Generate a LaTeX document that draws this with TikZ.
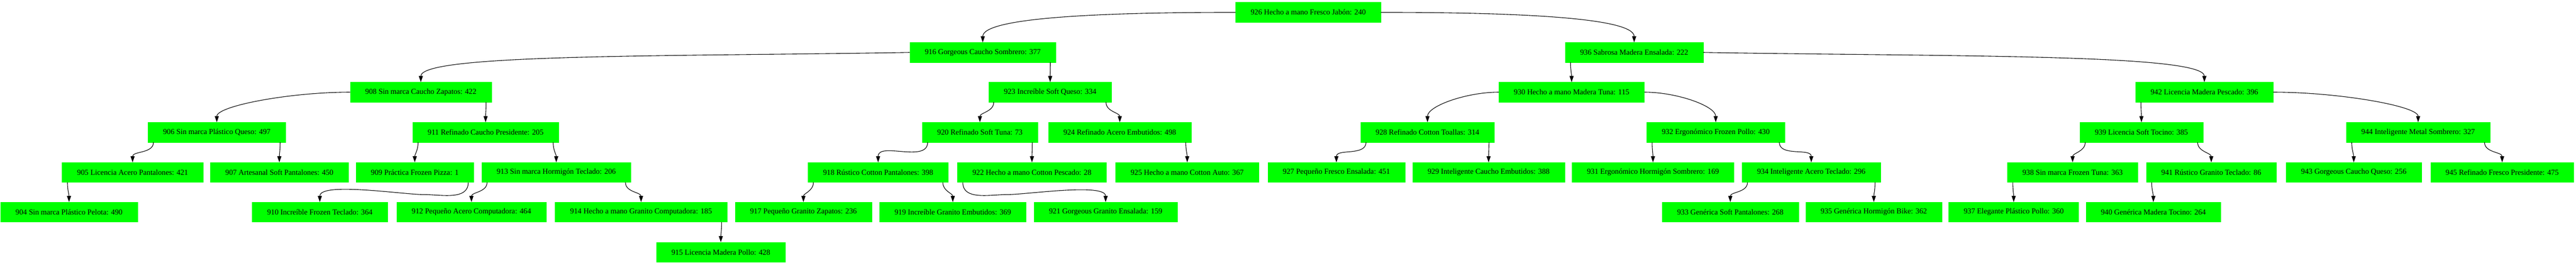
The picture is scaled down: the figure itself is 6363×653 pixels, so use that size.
\documentclass[tikz,border=0pt]{standalone}
\usepackage{fontspec}
\setmainfont{Liberation Serif}
\usetikzlibrary{arrows.meta}
\definecolor{boxgreen}{RGB}{0,255,0}
\begin{document}
\begin{tikzpicture}[x=1pt,y=1pt,>={Triangle[length=15pt,width=10pt]},
	item/.style={fill=boxgreen,draw=boxgreen,line width=0.6pt,inner xsep=37pt,inner ysep=0pt,minimum height=49pt,font=\fontsize{18.8}{22}\selectfont},
	link/.style={->,line width=1.4pt}]
	\useasboundingbox (0,0) rectangle (6363,653);
	% level 0 and 1
	\node[item] (n926) at (3231.5,622.5) {926 Hecho a mano Fresco Jabón: 240};
	\node[item] (n916) at (2427.5,523.5) {916 Gorgeous Caucho Sombrero: 377};
	\node[item] (n936) at (4036.5,523.5) {936 Sabrosa Madera Ensalada: 222};
	% level 2
	\node[item] (n908) at (1039.5,425.5) {908 Sin marca Caucho Zapatos: 422};
	\node[item] (n923) at (2594,425.5) {923 Increíble Soft Queso: 334};
	\node[item] (n930) at (3882,425.5) {930 Hecho a mano Madera Tuna: 115};
	\node[item] (n942) at (5445,425.5) {942 Licencia Madera Pescado: 396};
	% level 3
	\node[item] (n906) at (535.5,326.5) {906 Sin marca Plástico Queso: 497};
	\node[item] (n911) at (1199.5,326.5) {911 Refinado Caucho Presidente: 205};
	\node[item] (n920) at (2420.5,326.5) {920 Refinado Soft Tuna: 73};
	\node[item] (n924) at (2766,326.5) {924 Refinado Acero Embutidos: 498};
	\node[item] (n928) at (3526,326.5) {928 Refinado Cotton Toallas: 314};
	\node[item] (n932) at (4238,326.5) {932 Ergonómico Frozen Pollo: 430};
	\node[item] (n939) at (5289.5,326.5) {939 Licencia Soft Tocino: 385};
	\node[item] (n944) at (5973,326.5) {944 Inteligente Metal Sombrero: 327};
	% level 4
	\node[item] (n905) at (327.5,227.5) {905 Licencia Acero Pantalones: 421};
	\node[item] (n907) at (690,227.5) {907 Artesanal Soft Pantalones: 450};
	\node[item] (n909) at (1024.5,227.5) {909 Práctica Frozen Pizza: 1};
	\node[item] (n913) at (1374,227.5) {913 Sin marca Hormigón Teclado: 206};
	\node[item] (n918) at (2169,227.5) {918 Rústico Cotton Pantalones: 398};
	\node[item] (n922) at (2549,227.5) {922 Hecho a mano Cotton Pescado: 28};
	\node[item] (n925) at (2932.5,227.5) {925 Hecho a mano Cotton Auto: 367};
	\node[item] (n927) at (3301,227.5) {927 Pequeño Fresco Ensalada: 451};
	\node[item] (n929) at (3677,227.5) {929 Inteligente Caucho Embutidos: 388};
	\node[item] (n931) at (4083,227.5) {931 Ergonómico Hormigón Sombrero: 169};
	\node[item] (n934) at (4474,227.5) {934 Inteligente Acero Teclado: 296};
	\node[item] (n938) at (5119.5,227.5) {938 Sin marca Frozen Tuna: 363};
	\node[item] (n941) at (5462,227.5) {941 Rústico Granito Teclado: 86};
	\node[item] (n943) at (5814,227.5) {943 Gorgeous Caucho Queso: 256};
	\node[item] (n945) at (6180.5,227.5) {945 Refinado Fresco Presidente: 475};
	% level 5 and 6
	\node[item] (n904) at (170.5,129.5) {904 Sin marca Plástico Pelota: 490};
	\node[item] (n910) at (790,129.5) {910 Increíble Frozen Teclado: 364};
	\node[item] (n912) at (1164.5,129.5) {912 Pequeño Acero Computadora: 464};
	\node[item] (n914) at (1583.5,129.5) {914 Hecho a mano Granito Computadora: 185};
	\node[item] (n917) at (1984.5,129.5) {917 Pequeño Granito Zapatos: 236};
	\node[item] (n919) at (2353.5,129.5) {919 Increíble Granito Embutidos: 369};
	\node[item] (n921) at (2731,129.5) {921 Gorgeous Granito Ensalada: 159};
	\node[item] (n933) at (4274,129.5) {933 Genérica Soft Pantalones: 268};
	\node[item] (n935) at (4628.5,129.5) {935 Genérica Hormigón Bike: 362};
	\node[item] (n937) at (4974,129.5) {937 Elegante Plástico Pollo: 360};
	\node[item] (n940) at (5319,129.5) {940 Genérica Madera Tocino: 264};
	\node[item] (n915) at (1780.5,30.5) {915 Licencia Madera Pollo: 428};
	% side links
	\draw[link] (n926.west) .. controls +(-350,0) and +(0,60) .. (n916.north);
	\draw[link] (n926.east) .. controls +(350,0) and +(0,60) .. (n936.north);
	\draw[link] (n916.west) .. controls +(-600,-10) and +(0,70) .. (n908.north);
	\draw[link] (n936.east) .. controls +(600,-10) and +(0,70) .. (n942.north);
	\draw[link] (n908.west) .. controls +(-150,0) and +(0,40) .. (n906.north);
	\draw[link] (n930.west) .. controls +(-80,0) and +(0,40) .. (n928.north);
	\draw[link] (n930.east) .. controls +(80,0) and +(0,40) .. (n932.north);
	\draw[link] (n942.east) .. controls +(160,0) and +(0,40) .. (n944.north);
	% bottom links
	\draw[link] ([xshift=-13.5pt]n916.south east) to[out=-90,in=90] (n923.north);
	\draw[link] ([xshift=13.5pt]n936.south west) to[out=-90,in=90] (n930.north);
	\draw[link] ([xshift=-13.5pt]n908.south east) to[out=-90,in=90] (n911.north);
	\draw[link] ([xshift=12pt]n923.south west) to[out=-90,in=90] (n920.north);
	\draw[link] ([xshift=-13.5pt]n923.south east) to[out=-90,in=90] (n924.north);
	\draw[link] ([xshift=13.5pt]n942.south west) to[out=-90,in=90] (n939.north);
	\draw[link] ([xshift=13.5pt]n906.south west) to[out=-90,in=90] (n905.north);
	\draw[link] ([xshift=-13.5pt]n906.south east) to[out=-90,in=90] (n907.north);
	\draw[link] ([xshift=13.5pt]n911.south west) to[out=-90,in=90] (n909.north);
	\draw[link] ([xshift=-13.5pt]n911.south east) to[out=-90,in=90] (n913.north);
	\draw[link] ([xshift=13.5pt]n920.south west) to[out=-90,in=90] (n918.north);
	\draw[link] ([xshift=-13.5pt]n920.south east) to[out=-90,in=90] (n922.north);
	\draw[link] ([xshift=-13.5pt]n924.south east) to[out=-90,in=90] (n925.north);
	\draw[link] ([xshift=13.5pt]n928.south west) to[out=-90,in=90] (n927.north);
	\draw[link] ([xshift=-13.5pt]n928.south east) to[out=-90,in=90] (n929.north);
	\draw[link] ([xshift=13.5pt]n932.south west) to[out=-90,in=90] (n931.north);
	\draw[link] ([xshift=-13.5pt]n932.south east) to[out=-90,in=90] (n934.north);
	\draw[link] ([xshift=13.5pt]n939.south west) to[out=-90,in=90] (n938.north);
	\draw[link] ([xshift=-13.5pt]n939.south east) to[out=-90,in=90] (n941.north);
	\draw[link] ([xshift=13.5pt]n944.south west) to[out=-90,in=90] (n943.north);
	\draw[link] ([xshift=-13.5pt]n944.south east) to[out=-90,in=90] (n945.north);
	\draw[link] ([xshift=13.5pt]n905.south west) to[out=-90,in=90] (n904.north);
	\draw[link] ([xshift=-13.5pt]n909.south east) to[out=-90,in=0] ++(-110,-30) to[out=180,in=90,looseness=0.5] (n910.north);
	\draw[link] ([xshift=13.5pt]n913.south west) to[out=-90,in=90] (n912.north);
	\draw[link] ([xshift=-13.5pt]n913.south east) to[out=-90,in=90] (n914.north);
	\draw[link] ([xshift=-13.5pt]n914.south east) to[out=-90,in=90] (n915.north);
	\draw[link] ([xshift=13.5pt]n918.south west) to[out=-90,in=90] (n917.north);
	\draw[link] ([xshift=-13.5pt]n918.south east) to[out=-90,in=90] (n919.north);
	\draw[link] ([xshift=13.5pt]n922.south west) to[out=-90,in=180] ++(110,-30) to[out=0,in=90,looseness=0.5] (n921.north);
	\draw[link] ([xshift=13.5pt]n934.south west) to[out=-90,in=90] (n933.north);
	\draw[link] ([xshift=-13.5pt]n934.south east) to[out=-90,in=90] (n935.north);
	\draw[link] ([xshift=13.5pt]n938.south west) to[out=-90,in=90] (n937.north);
	\draw[link] ([xshift=13.5pt]n941.south west) to[out=-90,in=90] (n940.north);
\end{tikzpicture}
\end{document}
